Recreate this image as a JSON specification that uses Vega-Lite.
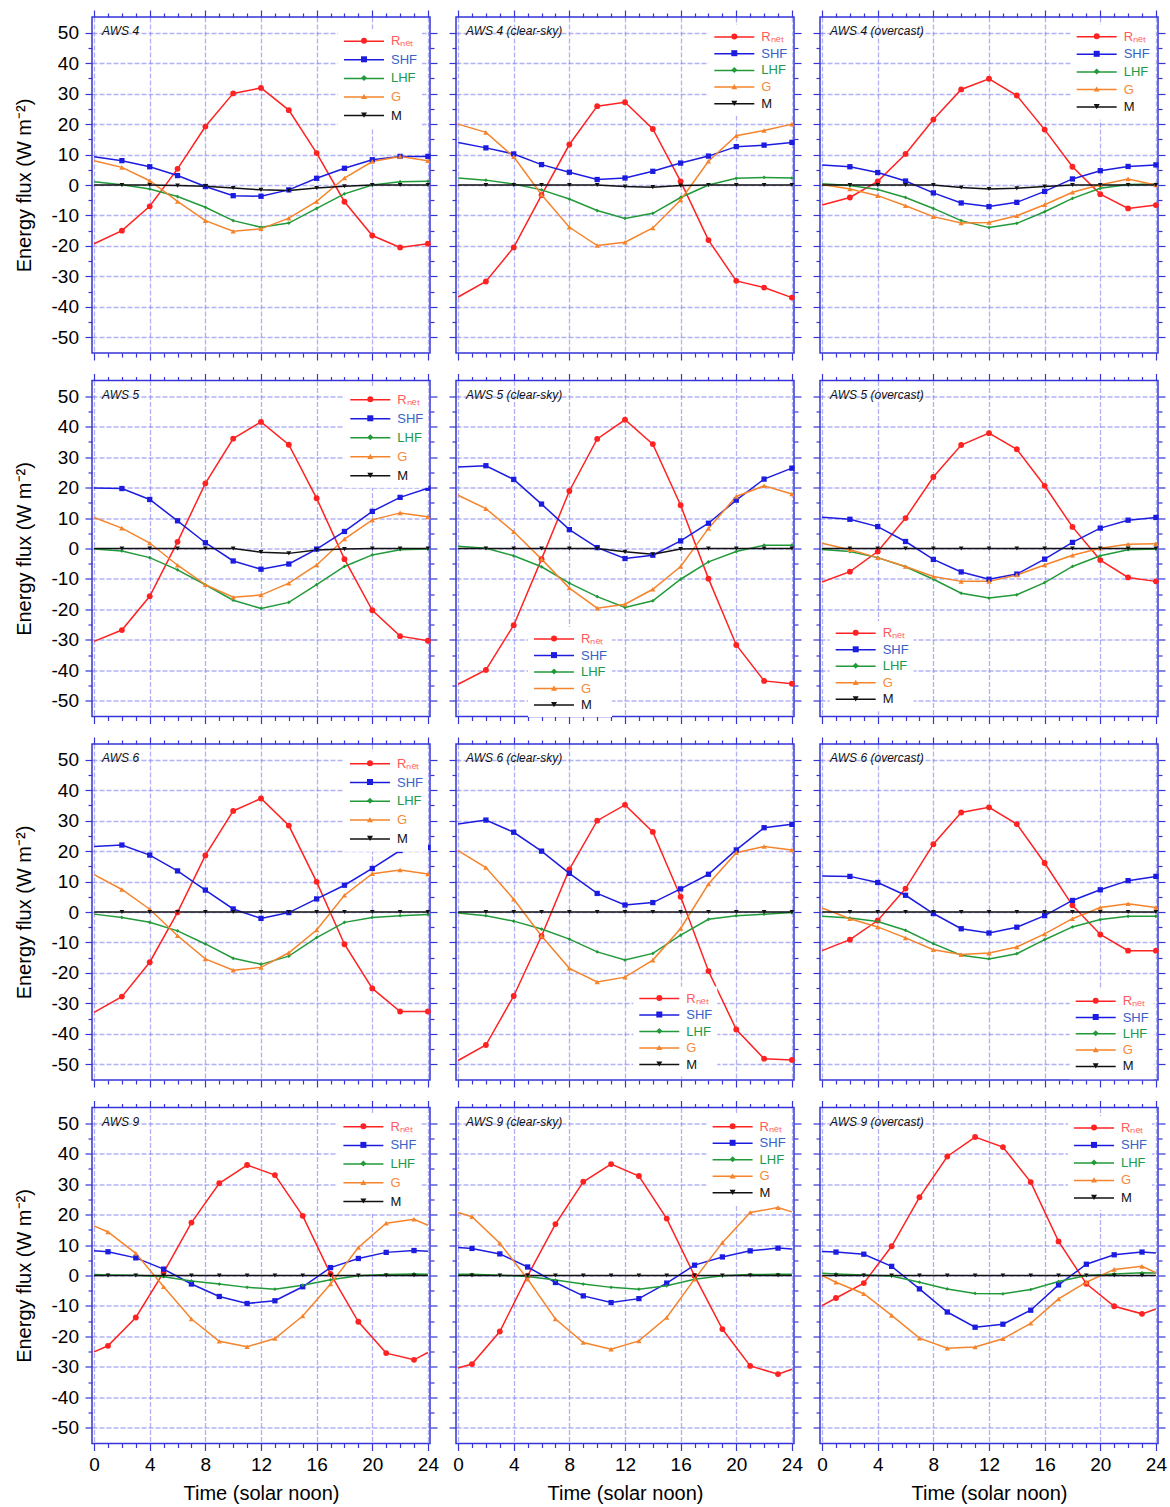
{
"$schema": "https://vega.github.io/schema/vega-lite/v6.json",
"padding": {"left": 13, "top": 8, "right": 5, "bottom": 5},
"datasets": {"d": [
{"p":"4","h":0,"Rnet":-19.3,"SHF":9.3,"LHF":1.1,"G":8.0,"M":0},
{"p":"4","h":2,"Rnet":-15.0,"SHF":8.0,"LHF":0.1,"G":5.8,"M":0},
{"p":"4","h":4,"Rnet":-7.0,"SHF":6.0,"LHF":-1.3,"G":1.4,"M":0},
{"p":"4","h":6,"Rnet":5.3,"SHF":3.1,"LHF":-3.8,"G":-5.4,"M":-0.2},
{"p":"4","h":8,"Rnet":19.2,"SHF":-0.5,"LHF":-7.3,"G":-11.7,"M":-0.4},
{"p":"4","h":10,"Rnet":30.1,"SHF":-3.5,"LHF":-11.7,"G":-15.2,"M":-1.0},
{"p":"4","h":12,"Rnet":31.9,"SHF":-3.7,"LHF":-13.9,"G":-14.4,"M":-1.6},
{"p":"4","h":14,"Rnet":24.6,"SHF":-1.6,"LHF":-12.5,"G":-10.9,"M":-1.8},
{"p":"4","h":16,"Rnet":10.5,"SHF":2.2,"LHF":-7.7,"G":-5.4,"M":-1.0},
{"p":"4","h":18,"Rnet":-5.5,"SHF":5.5,"LHF":-2.9,"G":2.3,"M":-0.4},
{"p":"4","h":20,"Rnet":-16.6,"SHF":8.3,"LHF":0.0,"G":7.7,"M":0},
{"p":"4","h":22,"Rnet":-20.5,"SHF":9.4,"LHF":1.1,"G":9.4,"M":0},
{"p":"4","h":24,"Rnet":-19.3,"SHF":9.4,"LHF":1.2,"G":8.0,"M":0},
{"p":"4c","h":0,"Rnet":-36.8,"SHF":14.0,"LHF":2.3,"G":20.0,"M":0},
{"p":"4c","h":2,"Rnet":-31.7,"SHF":12.2,"LHF":1.6,"G":17.3,"M":0},
{"p":"4c","h":4,"Rnet":-20.5,"SHF":10.2,"LHF":0.3,"G":9.3,"M":0},
{"p":"4c","h":6,"Rnet":-3.3,"SHF":6.7,"LHF":-1.6,"G":-3.2,"M":0},
{"p":"4c","h":8,"Rnet":13.3,"SHF":4.2,"LHF":-4.6,"G":-13.9,"M":0},
{"p":"4c","h":10,"Rnet":25.9,"SHF":1.8,"LHF":-8.4,"G":-19.9,"M":0},
{"p":"4c","h":12,"Rnet":27.2,"SHF":2.3,"LHF":-11.0,"G":-18.8,"M":-0.5},
{"p":"4c","h":14,"Rnet":18.4,"SHF":4.5,"LHF":-9.3,"G":-14.1,"M":-0.7},
{"p":"4c","h":16,"Rnet":1.2,"SHF":7.2,"LHF":-4.1,"G":-4.9,"M":-0.2},
{"p":"4c","h":18,"Rnet":-18.1,"SHF":9.5,"LHF":0.0,"G":7.8,"M":0},
{"p":"4c","h":20,"Rnet":-31.5,"SHF":12.6,"LHF":2.2,"G":16.2,"M":0},
{"p":"4c","h":22,"Rnet":-33.7,"SHF":13.1,"LHF":2.5,"G":17.9,"M":0},
{"p":"4c","h":24,"Rnet":-37.0,"SHF":14.0,"LHF":2.3,"G":20.0,"M":0},
{"p":"4o","h":0,"Rnet":-6.6,"SHF":6.6,"LHF":0.4,"G":0.2,"M":0},
{"p":"4o","h":2,"Rnet":-4.1,"SHF":6.0,"LHF":-0.2,"G":-1.3,"M":0},
{"p":"4o","h":4,"Rnet":1.2,"SHF":4.1,"LHF":-1.5,"G":-3.5,"M":0},
{"p":"4o","h":6,"Rnet":10.2,"SHF":1.3,"LHF":-4.1,"G":-6.8,"M":0},
{"p":"4o","h":8,"Rnet":21.5,"SHF":-2.6,"LHF":-7.7,"G":-10.4,"M":0},
{"p":"4o","h":10,"Rnet":31.4,"SHF":-5.9,"LHF":-11.7,"G":-12.5,"M":-0.8},
{"p":"4o","h":12,"Rnet":34.9,"SHF":-7.1,"LHF":-14.0,"G":-12.3,"M":-1.3},
{"p":"4o","h":14,"Rnet":29.4,"SHF":-5.7,"LHF":-12.6,"G":-10.1,"M":-1.1},
{"p":"4o","h":16,"Rnet":18.2,"SHF":-2.1,"LHF":-8.8,"G":-6.5,"M":-0.5},
{"p":"4o","h":18,"Rnet":6.0,"SHF":2.0,"LHF":-4.4,"G":-2.4,"M":0},
{"p":"4o","h":20,"Rnet":-3.0,"SHF":4.7,"LHF":-1.1,"G":0.1,"M":0},
{"p":"4o","h":22,"Rnet":-7.7,"SHF":6.1,"LHF":0.2,"G":2.0,"M":0},
{"p":"4o","h":24,"Rnet":-6.6,"SHF":6.6,"LHF":0.3,"G":0.0,"M":0},
{"p":"5","h":0,"Rnet":-30.5,"SHF":19.9,"LHF":-0.2,"G":10.2,"M":0},
{"p":"5","h":2,"Rnet":-26.8,"SHF":19.7,"LHF":-0.8,"G":6.7,"M":0},
{"p":"5","h":4,"Rnet":-15.7,"SHF":16.1,"LHF":-3.0,"G":1.8,"M":0},
{"p":"5","h":6,"Rnet":2.2,"SHF":9.1,"LHF":-7.0,"G":-5.5,"M":0},
{"p":"5","h":8,"Rnet":21.4,"SHF":1.9,"LHF":-11.9,"G":-11.9,"M":0},
{"p":"5","h":10,"Rnet":36.1,"SHF":-4.1,"LHF":-17.0,"G":-16.0,"M":0},
{"p":"5","h":12,"Rnet":41.6,"SHF":-6.8,"LHF":-19.7,"G":-15.3,"M":-1.2},
{"p":"5","h":14,"Rnet":34.1,"SHF":-5.1,"LHF":-17.7,"G":-11.4,"M":-1.6},
{"p":"5","h":16,"Rnet":16.5,"SHF":-0.2,"LHF":-11.9,"G":-5.4,"M":-0.5},
{"p":"5","h":18,"Rnet":-3.5,"SHF":5.6,"LHF":-5.9,"G":3.1,"M":-0.2},
{"p":"5","h":20,"Rnet":-20.3,"SHF":12.2,"LHF":-2.1,"G":9.4,"M":0},
{"p":"5","h":22,"Rnet":-28.8,"SHF":16.8,"LHF":-0.4,"G":11.7,"M":0},
{"p":"5","h":24,"Rnet":-30.3,"SHF":19.8,"LHF":-0.2,"G":10.4,"M":0},
{"p":"5c","h":0,"Rnet":-44.6,"SHF":26.8,"LHF":0.7,"G":17.5,"M":0},
{"p":"5c","h":2,"Rnet":-39.9,"SHF":27.2,"LHF":0.1,"G":13.1,"M":0},
{"p":"5c","h":4,"Rnet":-25.2,"SHF":22.7,"LHF":-2.4,"G":5.5,"M":0},
{"p":"5c","h":6,"Rnet":-3.5,"SHF":14.6,"LHF":-6.0,"G":-3.5,"M":0},
{"p":"5c","h":8,"Rnet":18.9,"SHF":6.2,"LHF":-11.4,"G":-13.0,"M":0},
{"p":"5c","h":10,"Rnet":36.0,"SHF":0.3,"LHF":-15.8,"G":-19.6,"M":0},
{"p":"5c","h":12,"Rnet":42.3,"SHF":-3.3,"LHF":-19.4,"G":-18.3,"M":-1.1},
{"p":"5c","h":14,"Rnet":34.3,"SHF":-2.2,"LHF":-17.2,"G":-13.4,"M":-1.9},
{"p":"5c","h":16,"Rnet":14.2,"SHF":2.5,"LHF":-10.1,"G":-5.9,"M":-0.2},
{"p":"5c","h":18,"Rnet":-9.9,"SHF":8.3,"LHF":-4.4,"G":6.6,"M":0},
{"p":"5c","h":20,"Rnet":-31.7,"SHF":15.9,"LHF":-1.0,"G":17.1,"M":0},
{"p":"5c","h":22,"Rnet":-43.5,"SHF":22.8,"LHF":1.1,"G":20.6,"M":0},
{"p":"5c","h":24,"Rnet":-44.4,"SHF":26.4,"LHF":1.1,"G":17.9,"M":0},
{"p":"5o","h":0,"Rnet":-11.0,"SHF":10.3,"LHF":-0.3,"G":1.7,"M":0},
{"p":"5o","h":2,"Rnet":-7.6,"SHF":9.6,"LHF":-1.0,"G":-0.4,"M":0},
{"p":"5o","h":4,"Rnet":-1.0,"SHF":7.2,"LHF":-3.0,"G":-3.0,"M":0},
{"p":"5o","h":6,"Rnet":10.0,"SHF":2.3,"LHF":-6.0,"G":-5.9,"M":0},
{"p":"5o","h":8,"Rnet":23.5,"SHF":-3.6,"LHF":-10.1,"G":-9.2,"M":0},
{"p":"5o","h":10,"Rnet":34.0,"SHF":-7.7,"LHF":-14.7,"G":-10.8,"M":0},
{"p":"5o","h":12,"Rnet":37.9,"SHF":-10.1,"LHF":-16.3,"G":-10.8,"M":0},
{"p":"5o","h":14,"Rnet":32.6,"SHF":-8.4,"LHF":-15.2,"G":-8.7,"M":0},
{"p":"5o","h":16,"Rnet":20.6,"SHF":-3.5,"LHF":-11.2,"G":-5.4,"M":0},
{"p":"5o","h":18,"Rnet":7.1,"SHF":2.0,"LHF":-5.9,"G":-2.2,"M":0},
{"p":"5o","h":20,"Rnet":-3.8,"SHF":6.7,"LHF":-2.4,"G":0.1,"M":0},
{"p":"5o","h":22,"Rnet":-9.5,"SHF":9.3,"LHF":-0.4,"G":1.4,"M":0},
{"p":"5o","h":24,"Rnet":-10.8,"SHF":10.2,"LHF":-0.2,"G":1.6,"M":0},
{"p":"6","h":0,"Rnet":-33.0,"SHF":21.5,"LHF":-0.7,"G":12.3,"M":0},
{"p":"6","h":2,"Rnet":-27.8,"SHF":22.0,"LHF":-1.8,"G":7.4,"M":0},
{"p":"6","h":4,"Rnet":-16.5,"SHF":18.7,"LHF":-3.4,"G":0.9,"M":0},
{"p":"6","h":6,"Rnet":-0.1,"SHF":13.5,"LHF":-6.2,"G":-7.8,"M":0},
{"p":"6","h":8,"Rnet":18.6,"SHF":7.2,"LHF":-10.5,"G":-15.4,"M":0},
{"p":"6","h":10,"Rnet":33.2,"SHF":1.0,"LHF":-15.2,"G":-19.1,"M":0},
{"p":"6","h":12,"Rnet":37.3,"SHF":-2.1,"LHF":-17.2,"G":-18.2,"M":0},
{"p":"6","h":14,"Rnet":28.4,"SHF":-0.2,"LHF":-14.5,"G":-13.4,"M":0},
{"p":"6","h":16,"Rnet":9.9,"SHF":4.3,"LHF":-8.4,"G":-5.9,"M":0},
{"p":"6","h":18,"Rnet":-10.6,"SHF":8.8,"LHF":-3.4,"G":5.5,"M":0},
{"p":"6","h":20,"Rnet":-25.1,"SHF":14.3,"LHF":-1.8,"G":12.6,"M":0},
{"p":"6","h":22,"Rnet":-32.7,"SHF":20.2,"LHF":-1.2,"G":13.8,"M":0},
{"p":"6","h":24,"Rnet":-32.7,"SHF":21.2,"LHF":-0.8,"G":12.5,"M":0},
{"p":"6c","h":0,"Rnet":-48.8,"SHF":28.9,"LHF":-0.3,"G":20.2,"M":0},
{"p":"6c","h":2,"Rnet":-43.7,"SHF":30.2,"LHF":-1.2,"G":14.6,"M":0},
{"p":"6c","h":4,"Rnet":-27.6,"SHF":26.2,"LHF":-3.0,"G":4.2,"M":0},
{"p":"6c","h":6,"Rnet":-7.9,"SHF":20.0,"LHF":-5.6,"G":-7.9,"M":0},
{"p":"6c","h":8,"Rnet":14.0,"SHF":12.7,"LHF":-8.9,"G":-18.5,"M":0},
{"p":"6c","h":10,"Rnet":30.0,"SHF":6.1,"LHF":-13.1,"G":-23.0,"M":0},
{"p":"6c","h":12,"Rnet":35.2,"SHF":2.3,"LHF":-15.8,"G":-21.4,"M":0},
{"p":"6c","h":14,"Rnet":26.3,"SHF":3.1,"LHF":-13.6,"G":-15.8,"M":0},
{"p":"6c","h":16,"Rnet":5.0,"SHF":7.6,"LHF":-7.6,"G":-5.4,"M":0},
{"p":"6c","h":18,"Rnet":-19.4,"SHF":12.4,"LHF":-2.4,"G":9.2,"M":0},
{"p":"6c","h":20,"Rnet":-38.6,"SHF":20.4,"LHF":-1.2,"G":19.5,"M":0},
{"p":"6c","h":22,"Rnet":-48.2,"SHF":27.7,"LHF":-0.7,"G":21.5,"M":0},
{"p":"6c","h":24,"Rnet":-48.6,"SHF":28.8,"LHF":-0.2,"G":20.4,"M":0},
{"p":"6o","h":0,"Rnet":-12.7,"SHF":11.8,"LHF":-1.4,"G":1.3,"M":0},
{"p":"6o","h":2,"Rnet":-9.1,"SHF":11.7,"LHF":-2.0,"G":-2.2,"M":0},
{"p":"6o","h":4,"Rnet":-2.8,"SHF":9.7,"LHF":-3.1,"G":-4.9,"M":0},
{"p":"6o","h":6,"Rnet":7.7,"SHF":5.5,"LHF":-6.0,"G":-8.5,"M":0},
{"p":"6o","h":8,"Rnet":22.3,"SHF":-0.5,"LHF":-10.4,"G":-12.4,"M":0},
{"p":"6o","h":10,"Rnet":32.7,"SHF":-5.5,"LHF":-14.2,"G":-14.0,"M":0},
{"p":"6o","h":12,"Rnet":34.4,"SHF":-6.9,"LHF":-15.4,"G":-13.5,"M":0},
{"p":"6o","h":14,"Rnet":28.9,"SHF":-5.0,"LHF":-13.7,"G":-11.5,"M":0},
{"p":"6o","h":16,"Rnet":16.1,"SHF":-1.2,"LHF":-9.1,"G":-7.2,"M":0},
{"p":"6o","h":18,"Rnet":2.2,"SHF":3.8,"LHF":-4.9,"G":-2.2,"M":0},
{"p":"6o","h":20,"Rnet":-7.4,"SHF":7.3,"LHF":-2.5,"G":1.5,"M":0},
{"p":"6o","h":22,"Rnet":-12.7,"SHF":10.3,"LHF":-1.4,"G":2.7,"M":0},
{"p":"6o","h":24,"Rnet":-12.7,"SHF":11.7,"LHF":-1.4,"G":1.5,"M":0},
{"p":"9","h":0,"Rnet":-25.1,"SHF":8.1,"LHF":0.3,"G":16.3,"M":0},
{"p":"9","h":1,"Rnet":-23.1,"SHF":7.8,"LHF":0.2,"G":14.3,"M":0},
{"p":"9","h":3,"Rnet":-13.8,"SHF":5.8,"LHF":0.1,"G":7.3,"M":0},
{"p":"9","h":5,"Rnet":1.0,"SHF":2.1,"LHF":-0.4,"G":-3.7,"M":0},
{"p":"9","h":7,"Rnet":17.4,"SHF":-2.8,"LHF":-1.8,"G":-14.3,"M":0},
{"p":"9","h":9,"Rnet":30.3,"SHF":-6.9,"LHF":-2.8,"G":-21.6,"M":0},
{"p":"9","h":11,"Rnet":36.3,"SHF":-9.2,"LHF":-3.9,"G":-23.4,"M":0},
{"p":"9","h":13,"Rnet":33.0,"SHF":-8.3,"LHF":-4.5,"G":-20.7,"M":0},
{"p":"9","h":15,"Rnet":19.6,"SHF":-3.7,"LHF":-3.2,"G":-13.3,"M":0},
{"p":"9","h":17,"Rnet":0.5,"SHF":2.6,"LHF":-1.4,"G":-2.8,"M":0},
{"p":"9","h":19,"Rnet":-15.2,"SHF":5.6,"LHF":-0.1,"G":9.2,"M":0},
{"p":"9","h":21,"Rnet":-25.5,"SHF":7.6,"LHF":0.3,"G":17.2,"M":0},
{"p":"9","h":23,"Rnet":-27.7,"SHF":8.2,"LHF":0.5,"G":18.5,"M":0},
{"p":"9","h":24,"Rnet":-25.3,"SHF":8.0,"LHF":0.4,"G":16.5,"M":0},
{"p":"9c","h":0,"Rnet":-30.4,"SHF":9.2,"LHF":0.4,"G":20.7,"M":0},
{"p":"9c","h":1,"Rnet":-29.1,"SHF":8.9,"LHF":0.4,"G":19.3,"M":0},
{"p":"9c","h":3,"Rnet":-18.4,"SHF":7.1,"LHF":0.1,"G":10.6,"M":0},
{"p":"9c","h":5,"Rnet":-0.1,"SHF":2.8,"LHF":-0.3,"G":-1.2,"M":0},
{"p":"9c","h":7,"Rnet":16.9,"SHF":-2.3,"LHF":-1.5,"G":-14.3,"M":0},
{"p":"9c","h":9,"Rnet":30.8,"SHF":-6.7,"LHF":-2.8,"G":-22.0,"M":0},
{"p":"9c","h":11,"Rnet":36.6,"SHF":-8.9,"LHF":-3.9,"G":-24.2,"M":0},
{"p":"9c","h":13,"Rnet":32.7,"SHF":-7.6,"LHF":-4.5,"G":-21.5,"M":0},
{"p":"9c","h":15,"Rnet":18.7,"SHF":-2.5,"LHF":-3.4,"G":-13.8,"M":0},
{"p":"9c","h":17,"Rnet":-0.1,"SHF":3.4,"LHF":-1.2,"G":-1.2,"M":0},
{"p":"9c","h":19,"Rnet":-17.6,"SHF":6.1,"LHF":-0.1,"G":10.8,"M":0},
{"p":"9c","h":21,"Rnet":-29.7,"SHF":8.1,"LHF":0.3,"G":20.7,"M":0},
{"p":"9c","h":23,"Rnet":-32.4,"SHF":9.0,"LHF":0.4,"G":22.3,"M":0},
{"p":"9c","h":24,"Rnet":-30.8,"SHF":8.7,"LHF":0.4,"G":20.9,"M":0},
{"p":"9o","h":0,"Rnet":-9.9,"SHF":7.9,"LHF":0.7,"G":0.0,"M":0},
{"p":"9o","h":1,"Rnet":-7.4,"SHF":7.7,"LHF":0.5,"G":-2.2,"M":0},
{"p":"9o","h":3,"Rnet":-2.5,"SHF":7.0,"LHF":0.2,"G":-6.0,"M":0},
{"p":"9o","h":5,"Rnet":9.6,"SHF":3.0,"LHF":-0.2,"G":-13.1,"M":0},
{"p":"9o","h":7,"Rnet":25.7,"SHF":-4.4,"LHF":-2.2,"G":-20.6,"M":0},
{"p":"9o","h":9,"Rnet":39.1,"SHF":-12.0,"LHF":-4.4,"G":-23.9,"M":0},
{"p":"9o","h":11,"Rnet":45.5,"SHF":-17.0,"LHF":-5.9,"G":-23.5,"M":0},
{"p":"9o","h":13,"Rnet":42.2,"SHF":-16.0,"LHF":-6.0,"G":-20.8,"M":0},
{"p":"9o","h":15,"Rnet":30.7,"SHF":-11.4,"LHF":-4.6,"G":-15.7,"M":0},
{"p":"9o","h":17,"Rnet":11.2,"SHF":-3.1,"LHF":-2.0,"G":-7.7,"M":0},
{"p":"9o","h":19,"Rnet":-2.7,"SHF":3.7,"LHF":0.0,"G":-2.2,"M":0},
{"p":"9o","h":21,"Rnet":-10.1,"SHF":6.8,"LHF":0.5,"G":2.0,"M":0},
{"p":"9o","h":23,"Rnet":-12.6,"SHF":7.7,"LHF":0.9,"G":3.0,"M":0},
{"p":"9o","h":24,"Rnet":-11.0,"SHF":7.4,"LHF":0.8,"G":0.9,"M":0}
]},
"columns": 3,
"spacing": {"row": 27.5, "column": 26},
"bounds": "flush",
"resolve": {"scale": {"stroke": "independent", "fill": "independent", "shape": "independent"}},
"concat": [
{"width": 338, "height": 336, "title": {"text": "AWS 4"}, "data": {"name": "d"},
 "transform": [{"filter": "datum.p === '4'"}, {"fold": ["Rnet","SHF","LHF","G","M"], "as": ["series","value"]}],
 "resolve": {"axis": {"x": "independent", "y": "independent"}},
 "layer": [
  {"mark": {"type": "line", "strokeWidth": 1.5},
   "encoding": {
    "x": {"field": "h", "type": "quantitative", "scale": {"domain": [-0.15, 24.15], "nice": false, "zero": false},
      "axis": {"orient": "bottom", "values": [0,1,2,3,4,5,6,7,8,9,10,11,12,13,14,15,16,17,18,19,20,21,22,23,24], "tickSize": {"condition": {"test": "datum.value % 4 === 0", "value": 7}, "value": 4}, "grid": true, "gridOpacity": {"condition": {"test": "datum.value % 4 === 0", "value": 0.55}, "value": 0}, "labels": false, "title": null}},
    "y": {"field": "value", "type": "quantitative", "scale": {"domain": [-55.2, 55.2], "nice": false},
      "axis": {"orient": "left", "values": [-50,-45,-40,-35,-30,-25,-20,-15,-10,-5,0,5,10,15,20,25,30,35,40,45,50], "tickSize": {"condition": {"test": "datum.value % 10 === 0", "value": 7}, "value": 4}, "grid": true, "gridOpacity": {"condition": {"test": "datum.value % 10 === 0", "value": 0.55}, "value": 0}, "labels": true, "labelExpr": "datum.value % 10 === 0 ? '' + datum.value : ''", "labelOverlap": false, "labelFlush": false, "labelPadding": 6.5, "title": "Energy flux (W m⁻²)", "titlePadding": 16.5}},
    "stroke": {"field": "series", "type": "nominal", "scale": {"domain": ["M","Rnet","SHF","LHF","G"], "range": ["#111111","#ff2222","#1c1ce0","#229a3a","#f5842c"]},
      "legend": {"values": ["Rnet","SHF","LHF","G","M"], "orient": "none", "legendX": 246, "legendY": 12.2, "title": null, "rowPadding": 4.6, "symbolType": "M-3.333,0H3.333", "symbolSize": 144, "symbolStrokeWidth": 1.5, "symbolOffset": 14, "labelOffset": 20, "fillColor": "white", "zindex": 0, "labelExpr": "datum.value === 'Rnet' ? 'Rₙₑₜ' : datum.value",
        "encode": {"labels": {"update": {"fill": {"signal": "datum.value === 'Rnet' ? '#ff5a5a' : datum.value === 'SHF' ? '#3762c6' : datum.value === 'LHF' ? '#20994a' : datum.value === 'G' ? '#f58a3c' : '#111111'"}}}}}}
   }},
  {"transform": [{"filter": "datum.h > 0"}],
   "mark": {"type": "point", "filled": true, "opacity": 1},
   "encoding": {
    "x": {"field": "h", "type": "quantitative", "axis": {"orient": "top", "values": [0,1,2,3,4,5,6,7,8,9,10,11,12,13,14,15,16,17,18,19,20,21,22,23,24], "tickSize": {"condition": {"test": "datum.value % 4 === 0", "value": 7}, "value": 4}, "grid": false, "labels": false, "title": null}},
    "y": {"field": "value", "type": "quantitative", "axis": {"orient": "right", "values": [-50,-45,-40,-35,-30,-25,-20,-15,-10,-5,0,5,10,15,20,25,30,35,40,45,50], "tickSize": {"condition": {"test": "datum.value % 10 === 0", "value": 7}, "value": 4}, "grid": false, "labels": false, "title": null}},
    "fill": {"field": "series", "type": "nominal", "scale": {"domain": ["Rnet","SHF","LHF","G","M"], "range": ["#ff2222","#1c1ce0","#229a3a","#f5842c","#111111"]},
      "legend": {"orient": "none", "legendX": 246, "legendY": 12.2, "title": null, "rowPadding": 4.6, "symbolSize": 36, "symbolStrokeWidth": 0, "symbolOffset": 14.5, "labelOffset": 6, "labelOpacity": 0, "zindex": 1, "labelExpr": "' '"}},
    "shape": {"field": "series", "type": "nominal", "scale": {"domain": ["Rnet","SHF","LHF","G","M"], "range": ["circle","square","diamond","triangle-up","triangle-down"]}},
    "size": {"condition": [{"test": "datum.series === 'Rnet'", "value": 34}, {"test": "datum.series === 'LHF'", "value": 14}, {"test": "datum.series === 'M'", "value": 22}], "value": 28}
   }}
 ]},
{"width": 338, "height": 336, "title": {"text": "AWS 4 (clear-sky)"}, "data": {"name": "d"},
 "transform": [{"filter": "datum.p === '4c'"}, {"fold": ["Rnet","SHF","LHF","G","M"], "as": ["series","value"]}],
 "resolve": {"axis": {"x": "independent", "y": "independent"}},
 "layer": [
  {"mark": {"type": "line", "strokeWidth": 1.5},
   "encoding": {
    "x": {"field": "h", "type": "quantitative", "scale": {"domain": [-0.15, 24.15], "nice": false, "zero": false},
      "axis": {"orient": "bottom", "values": [0,1,2,3,4,5,6,7,8,9,10,11,12,13,14,15,16,17,18,19,20,21,22,23,24], "tickSize": {"condition": {"test": "datum.value % 4 === 0", "value": 7}, "value": 4}, "grid": true, "gridOpacity": {"condition": {"test": "datum.value % 4 === 0", "value": 0.55}, "value": 0}, "labels": false, "title": null}},
    "y": {"field": "value", "type": "quantitative", "scale": {"domain": [-55.2, 55.2], "nice": false},
      "axis": {"orient": "left", "values": [-50,-45,-40,-35,-30,-25,-20,-15,-10,-5,0,5,10,15,20,25,30,35,40,45,50], "tickSize": {"condition": {"test": "datum.value % 10 === 0", "value": 7}, "value": 4}, "grid": true, "gridOpacity": {"condition": {"test": "datum.value % 10 === 0", "value": 0.55}, "value": 0}, "labels": false, "title": null}},
    "stroke": {"field": "series", "type": "nominal", "scale": {"domain": ["M","Rnet","SHF","LHF","G"], "range": ["#111111","#ff2222","#1c1ce0","#229a3a","#f5842c"]},
      "legend": {"values": ["Rnet","SHF","LHF","G","M"], "orient": "none", "legendX": 252.3, "legendY": 8, "title": null, "rowPadding": 2.7, "symbolType": "M-3.333,0H3.333", "symbolSize": 144, "symbolStrokeWidth": 1.5, "symbolOffset": 14, "labelOffset": 20, "fillColor": "white", "zindex": 0, "labelExpr": "datum.value === 'Rnet' ? 'Rₙₑₜ' : datum.value",
        "encode": {"labels": {"update": {"fill": {"signal": "datum.value === 'Rnet' ? '#ff5a5a' : datum.value === 'SHF' ? '#3762c6' : datum.value === 'LHF' ? '#20994a' : datum.value === 'G' ? '#f58a3c' : '#111111'"}}}}}}
   }},
  {"transform": [{"filter": "datum.h > 0"}],
   "mark": {"type": "point", "filled": true, "opacity": 1},
   "encoding": {
    "x": {"field": "h", "type": "quantitative", "axis": {"orient": "top", "values": [0,1,2,3,4,5,6,7,8,9,10,11,12,13,14,15,16,17,18,19,20,21,22,23,24], "tickSize": {"condition": {"test": "datum.value % 4 === 0", "value": 7}, "value": 4}, "grid": false, "labels": false, "title": null}},
    "y": {"field": "value", "type": "quantitative", "axis": {"orient": "right", "values": [-50,-45,-40,-35,-30,-25,-20,-15,-10,-5,0,5,10,15,20,25,30,35,40,45,50], "tickSize": {"condition": {"test": "datum.value % 10 === 0", "value": 7}, "value": 4}, "grid": false, "labels": false, "title": null}},
    "fill": {"field": "series", "type": "nominal", "scale": {"domain": ["Rnet","SHF","LHF","G","M"], "range": ["#ff2222","#1c1ce0","#229a3a","#f5842c","#111111"]},
      "legend": {"orient": "none", "legendX": 252.3, "legendY": 8, "title": null, "rowPadding": 2.7, "symbolSize": 36, "symbolStrokeWidth": 0, "symbolOffset": 14.5, "labelOffset": 6, "labelOpacity": 0, "zindex": 1, "labelExpr": "' '"}},
    "shape": {"field": "series", "type": "nominal", "scale": {"domain": ["Rnet","SHF","LHF","G","M"], "range": ["circle","square","diamond","triangle-up","triangle-down"]}},
    "size": {"condition": [{"test": "datum.series === 'Rnet'", "value": 34}, {"test": "datum.series === 'LHF'", "value": 14}, {"test": "datum.series === 'M'", "value": 22}], "value": 28}
   }}
 ]},
{"width": 338, "height": 336, "title": {"text": "AWS 4 (overcast)"}, "data": {"name": "d"},
 "transform": [{"filter": "datum.p === '4o'"}, {"fold": ["Rnet","SHF","LHF","G","M"], "as": ["series","value"]}],
 "resolve": {"axis": {"x": "independent", "y": "independent"}},
 "layer": [
  {"mark": {"type": "line", "strokeWidth": 1.5},
   "encoding": {
    "x": {"field": "h", "type": "quantitative", "scale": {"domain": [-0.15, 24.15], "nice": false, "zero": false},
      "axis": {"orient": "bottom", "values": [0,1,2,3,4,5,6,7,8,9,10,11,12,13,14,15,16,17,18,19,20,21,22,23,24], "tickSize": {"condition": {"test": "datum.value % 4 === 0", "value": 7}, "value": 4}, "grid": true, "gridOpacity": {"condition": {"test": "datum.value % 4 === 0", "value": 0.55}, "value": 0}, "labels": false, "title": null}},
    "y": {"field": "value", "type": "quantitative", "scale": {"domain": [-55.2, 55.2], "nice": false},
      "axis": {"orient": "left", "values": [-50,-45,-40,-35,-30,-25,-20,-15,-10,-5,0,5,10,15,20,25,30,35,40,45,50], "tickSize": {"condition": {"test": "datum.value % 10 === 0", "value": 7}, "value": 4}, "grid": true, "gridOpacity": {"condition": {"test": "datum.value % 10 === 0", "value": 0.55}, "value": 0}, "labels": false, "title": null}},
    "stroke": {"field": "series", "type": "nominal", "scale": {"domain": ["M","Rnet","SHF","LHF","G"], "range": ["#111111","#ff2222","#1c1ce0","#229a3a","#f5842c"]},
      "legend": {"values": ["Rnet","SHF","LHF","G","M"], "orient": "none", "legendX": 250.7, "legendY": 7.7, "title": null, "rowPadding": 3.6, "symbolType": "M-3.333,0H3.333", "symbolSize": 144, "symbolStrokeWidth": 1.5, "symbolOffset": 14, "labelOffset": 20, "fillColor": "white", "zindex": 0, "labelExpr": "datum.value === 'Rnet' ? 'Rₙₑₜ' : datum.value",
        "encode": {"labels": {"update": {"fill": {"signal": "datum.value === 'Rnet' ? '#ff5a5a' : datum.value === 'SHF' ? '#3762c6' : datum.value === 'LHF' ? '#20994a' : datum.value === 'G' ? '#f58a3c' : '#111111'"}}}}}}
   }},
  {"transform": [{"filter": "datum.h > 0"}],
   "mark": {"type": "point", "filled": true, "opacity": 1},
   "encoding": {
    "x": {"field": "h", "type": "quantitative", "axis": {"orient": "top", "values": [0,1,2,3,4,5,6,7,8,9,10,11,12,13,14,15,16,17,18,19,20,21,22,23,24], "tickSize": {"condition": {"test": "datum.value % 4 === 0", "value": 7}, "value": 4}, "grid": false, "labels": false, "title": null}},
    "y": {"field": "value", "type": "quantitative", "axis": {"orient": "right", "values": [-50,-45,-40,-35,-30,-25,-20,-15,-10,-5,0,5,10,15,20,25,30,35,40,45,50], "tickSize": {"condition": {"test": "datum.value % 10 === 0", "value": 7}, "value": 4}, "grid": false, "labels": false, "title": null}},
    "fill": {"field": "series", "type": "nominal", "scale": {"domain": ["Rnet","SHF","LHF","G","M"], "range": ["#ff2222","#1c1ce0","#229a3a","#f5842c","#111111"]},
      "legend": {"orient": "none", "legendX": 250.7, "legendY": 7.7, "title": null, "rowPadding": 3.6, "symbolSize": 36, "symbolStrokeWidth": 0, "symbolOffset": 14.5, "labelOffset": 6, "labelOpacity": 0, "zindex": 1, "labelExpr": "' '"}},
    "shape": {"field": "series", "type": "nominal", "scale": {"domain": ["Rnet","SHF","LHF","G","M"], "range": ["circle","square","diamond","triangle-up","triangle-down"]}},
    "size": {"condition": [{"test": "datum.series === 'Rnet'", "value": 34}, {"test": "datum.series === 'LHF'", "value": 14}, {"test": "datum.series === 'M'", "value": 22}], "value": 28}
   }}
 ]},
{"width": 338, "height": 336, "title": {"text": "AWS 5"}, "data": {"name": "d"},
 "transform": [{"filter": "datum.p === '5'"}, {"fold": ["Rnet","SHF","LHF","G","M"], "as": ["series","value"]}],
 "resolve": {"axis": {"x": "independent", "y": "independent"}},
 "layer": [
  {"mark": {"type": "line", "strokeWidth": 1.5},
   "encoding": {
    "x": {"field": "h", "type": "quantitative", "scale": {"domain": [-0.15, 24.15], "nice": false, "zero": false},
      "axis": {"orient": "bottom", "values": [0,1,2,3,4,5,6,7,8,9,10,11,12,13,14,15,16,17,18,19,20,21,22,23,24], "tickSize": {"condition": {"test": "datum.value % 4 === 0", "value": 7}, "value": 4}, "grid": true, "gridOpacity": {"condition": {"test": "datum.value % 4 === 0", "value": 0.55}, "value": 0}, "labels": false, "title": null}},
    "y": {"field": "value", "type": "quantitative", "scale": {"domain": [-55.2, 55.2], "nice": false},
      "axis": {"orient": "left", "values": [-50,-45,-40,-35,-30,-25,-20,-15,-10,-5,0,5,10,15,20,25,30,35,40,45,50], "tickSize": {"condition": {"test": "datum.value % 10 === 0", "value": 7}, "value": 4}, "grid": true, "gridOpacity": {"condition": {"test": "datum.value % 10 === 0", "value": 0.55}, "value": 0}, "labels": true, "labelExpr": "datum.value % 10 === 0 ? '' + datum.value : ''", "labelOverlap": false, "labelFlush": false, "labelPadding": 6.5, "title": "Energy flux (W m⁻²)", "titlePadding": 16.5}},
    "stroke": {"field": "series", "type": "nominal", "scale": {"domain": ["M","Rnet","SHF","LHF","G"], "range": ["#111111","#ff2222","#1c1ce0","#229a3a","#f5842c"]},
      "legend": {"values": ["Rnet","SHF","LHF","G","M"], "orient": "none", "legendX": 252.3, "legendY": 7.3, "title": null, "rowPadding": 5, "symbolType": "M-3.333,0H3.333", "symbolSize": 144, "symbolStrokeWidth": 1.5, "symbolOffset": 14, "labelOffset": 20, "fillColor": "white", "zindex": 0, "labelExpr": "datum.value === 'Rnet' ? 'Rₙₑₜ' : datum.value",
        "encode": {"labels": {"update": {"fill": {"signal": "datum.value === 'Rnet' ? '#ff5a5a' : datum.value === 'SHF' ? '#3762c6' : datum.value === 'LHF' ? '#20994a' : datum.value === 'G' ? '#f58a3c' : '#111111'"}}}}}}
   }},
  {"transform": [{"filter": "datum.h > 0"}],
   "mark": {"type": "point", "filled": true, "opacity": 1},
   "encoding": {
    "x": {"field": "h", "type": "quantitative", "axis": {"orient": "top", "values": [0,1,2,3,4,5,6,7,8,9,10,11,12,13,14,15,16,17,18,19,20,21,22,23,24], "tickSize": {"condition": {"test": "datum.value % 4 === 0", "value": 7}, "value": 4}, "grid": false, "labels": false, "title": null}},
    "y": {"field": "value", "type": "quantitative", "axis": {"orient": "right", "values": [-50,-45,-40,-35,-30,-25,-20,-15,-10,-5,0,5,10,15,20,25,30,35,40,45,50], "tickSize": {"condition": {"test": "datum.value % 10 === 0", "value": 7}, "value": 4}, "grid": false, "labels": false, "title": null}},
    "fill": {"field": "series", "type": "nominal", "scale": {"domain": ["Rnet","SHF","LHF","G","M"], "range": ["#ff2222","#1c1ce0","#229a3a","#f5842c","#111111"]},
      "legend": {"orient": "none", "legendX": 252.3, "legendY": 7.3, "title": null, "rowPadding": 5, "symbolSize": 36, "symbolStrokeWidth": 0, "symbolOffset": 14.5, "labelOffset": 6, "labelOpacity": 0, "zindex": 1, "labelExpr": "' '"}},
    "shape": {"field": "series", "type": "nominal", "scale": {"domain": ["Rnet","SHF","LHF","G","M"], "range": ["circle","square","diamond","triangle-up","triangle-down"]}},
    "size": {"condition": [{"test": "datum.series === 'Rnet'", "value": 34}, {"test": "datum.series === 'LHF'", "value": 14}, {"test": "datum.series === 'M'", "value": 22}], "value": 28}
   }}
 ]},
{"width": 338, "height": 336, "title": {"text": "AWS 5 (clear-sky)"}, "data": {"name": "d"},
 "transform": [{"filter": "datum.p === '5c'"}, {"fold": ["Rnet","SHF","LHF","G","M"], "as": ["series","value"]}],
 "resolve": {"axis": {"x": "independent", "y": "independent"}},
 "layer": [
  {"mark": {"type": "line", "strokeWidth": 1.5},
   "encoding": {
    "x": {"field": "h", "type": "quantitative", "scale": {"domain": [-0.15, 24.15], "nice": false, "zero": false},
      "axis": {"orient": "bottom", "values": [0,1,2,3,4,5,6,7,8,9,10,11,12,13,14,15,16,17,18,19,20,21,22,23,24], "tickSize": {"condition": {"test": "datum.value % 4 === 0", "value": 7}, "value": 4}, "grid": true, "gridOpacity": {"condition": {"test": "datum.value % 4 === 0", "value": 0.55}, "value": 0}, "labels": false, "title": null}},
    "y": {"field": "value", "type": "quantitative", "scale": {"domain": [-55.2, 55.2], "nice": false},
      "axis": {"orient": "left", "values": [-50,-45,-40,-35,-30,-25,-20,-15,-10,-5,0,5,10,15,20,25,30,35,40,45,50], "tickSize": {"condition": {"test": "datum.value % 10 === 0", "value": 7}, "value": 4}, "grid": true, "gridOpacity": {"condition": {"test": "datum.value % 10 === 0", "value": 0.55}, "value": 0}, "labels": false, "title": null}},
    "stroke": {"field": "series", "type": "nominal", "scale": {"domain": ["M","Rnet","SHF","LHF","G"], "range": ["#111111","#ff2222","#1c1ce0","#229a3a","#f5842c"]},
      "legend": {"values": ["Rnet","SHF","LHF","G","M"], "orient": "none", "legendX": 72, "legendY": 246.6, "title": null, "rowPadding": 2.5, "symbolType": "M-3.333,0H3.333", "symbolSize": 144, "symbolStrokeWidth": 1.5, "symbolOffset": 14, "labelOffset": 20, "fillColor": "white", "zindex": 0, "labelExpr": "datum.value === 'Rnet' ? 'Rₙₑₜ' : datum.value",
        "encode": {"labels": {"update": {"fill": {"signal": "datum.value === 'Rnet' ? '#ff5a5a' : datum.value === 'SHF' ? '#3762c6' : datum.value === 'LHF' ? '#20994a' : datum.value === 'G' ? '#f58a3c' : '#111111'"}}}}}}
   }},
  {"transform": [{"filter": "datum.h > 0"}],
   "mark": {"type": "point", "filled": true, "opacity": 1},
   "encoding": {
    "x": {"field": "h", "type": "quantitative", "axis": {"orient": "top", "values": [0,1,2,3,4,5,6,7,8,9,10,11,12,13,14,15,16,17,18,19,20,21,22,23,24], "tickSize": {"condition": {"test": "datum.value % 4 === 0", "value": 7}, "value": 4}, "grid": false, "labels": false, "title": null}},
    "y": {"field": "value", "type": "quantitative", "axis": {"orient": "right", "values": [-50,-45,-40,-35,-30,-25,-20,-15,-10,-5,0,5,10,15,20,25,30,35,40,45,50], "tickSize": {"condition": {"test": "datum.value % 10 === 0", "value": 7}, "value": 4}, "grid": false, "labels": false, "title": null}},
    "fill": {"field": "series", "type": "nominal", "scale": {"domain": ["Rnet","SHF","LHF","G","M"], "range": ["#ff2222","#1c1ce0","#229a3a","#f5842c","#111111"]},
      "legend": {"orient": "none", "legendX": 72, "legendY": 246.6, "title": null, "rowPadding": 2.5, "symbolSize": 36, "symbolStrokeWidth": 0, "symbolOffset": 14.5, "labelOffset": 6, "labelOpacity": 0, "zindex": 1, "labelExpr": "' '"}},
    "shape": {"field": "series", "type": "nominal", "scale": {"domain": ["Rnet","SHF","LHF","G","M"], "range": ["circle","square","diamond","triangle-up","triangle-down"]}},
    "size": {"condition": [{"test": "datum.series === 'Rnet'", "value": 34}, {"test": "datum.series === 'LHF'", "value": 14}, {"test": "datum.series === 'M'", "value": 22}], "value": 28}
   }}
 ]},
{"width": 338, "height": 336, "title": {"text": "AWS 5 (overcast)"}, "data": {"name": "d"},
 "transform": [{"filter": "datum.p === '5o'"}, {"fold": ["Rnet","SHF","LHF","G","M"], "as": ["series","value"]}],
 "resolve": {"axis": {"x": "independent", "y": "independent"}},
 "layer": [
  {"mark": {"type": "line", "strokeWidth": 1.5},
   "encoding": {
    "x": {"field": "h", "type": "quantitative", "scale": {"domain": [-0.15, 24.15], "nice": false, "zero": false},
      "axis": {"orient": "bottom", "values": [0,1,2,3,4,5,6,7,8,9,10,11,12,13,14,15,16,17,18,19,20,21,22,23,24], "tickSize": {"condition": {"test": "datum.value % 4 === 0", "value": 7}, "value": 4}, "grid": true, "gridOpacity": {"condition": {"test": "datum.value % 4 === 0", "value": 0.55}, "value": 0}, "labels": false, "title": null}},
    "y": {"field": "value", "type": "quantitative", "scale": {"domain": [-55.2, 55.2], "nice": false},
      "axis": {"orient": "left", "values": [-50,-45,-40,-35,-30,-25,-20,-15,-10,-5,0,5,10,15,20,25,30,35,40,45,50], "tickSize": {"condition": {"test": "datum.value % 10 === 0", "value": 7}, "value": 4}, "grid": true, "gridOpacity": {"condition": {"test": "datum.value % 10 === 0", "value": 0.55}, "value": 0}, "labels": false, "title": null}},
    "stroke": {"field": "series", "type": "nominal", "scale": {"domain": ["M","Rnet","SHF","LHF","G"], "range": ["#111111","#ff2222","#1c1ce0","#229a3a","#f5842c"]},
      "legend": {"values": ["Rnet","SHF","LHF","G","M"], "orient": "none", "legendX": 9.7, "legendY": 240.8, "title": null, "rowPadding": 2.5, "symbolType": "M-3.333,0H3.333", "symbolSize": 144, "symbolStrokeWidth": 1.5, "symbolOffset": 14, "labelOffset": 20, "fillColor": "white", "zindex": 0, "labelExpr": "datum.value === 'Rnet' ? 'Rₙₑₜ' : datum.value",
        "encode": {"labels": {"update": {"fill": {"signal": "datum.value === 'Rnet' ? '#ff5a5a' : datum.value === 'SHF' ? '#3762c6' : datum.value === 'LHF' ? '#20994a' : datum.value === 'G' ? '#f58a3c' : '#111111'"}}}}}}
   }},
  {"transform": [{"filter": "datum.h > 0"}],
   "mark": {"type": "point", "filled": true, "opacity": 1},
   "encoding": {
    "x": {"field": "h", "type": "quantitative", "axis": {"orient": "top", "values": [0,1,2,3,4,5,6,7,8,9,10,11,12,13,14,15,16,17,18,19,20,21,22,23,24], "tickSize": {"condition": {"test": "datum.value % 4 === 0", "value": 7}, "value": 4}, "grid": false, "labels": false, "title": null}},
    "y": {"field": "value", "type": "quantitative", "axis": {"orient": "right", "values": [-50,-45,-40,-35,-30,-25,-20,-15,-10,-5,0,5,10,15,20,25,30,35,40,45,50], "tickSize": {"condition": {"test": "datum.value % 10 === 0", "value": 7}, "value": 4}, "grid": false, "labels": false, "title": null}},
    "fill": {"field": "series", "type": "nominal", "scale": {"domain": ["Rnet","SHF","LHF","G","M"], "range": ["#ff2222","#1c1ce0","#229a3a","#f5842c","#111111"]},
      "legend": {"orient": "none", "legendX": 9.7, "legendY": 240.8, "title": null, "rowPadding": 2.5, "symbolSize": 36, "symbolStrokeWidth": 0, "symbolOffset": 14.5, "labelOffset": 6, "labelOpacity": 0, "zindex": 1, "labelExpr": "' '"}},
    "shape": {"field": "series", "type": "nominal", "scale": {"domain": ["Rnet","SHF","LHF","G","M"], "range": ["circle","square","diamond","triangle-up","triangle-down"]}},
    "size": {"condition": [{"test": "datum.series === 'Rnet'", "value": 34}, {"test": "datum.series === 'LHF'", "value": 14}, {"test": "datum.series === 'M'", "value": 22}], "value": 28}
   }}
 ]},
{"width": 338, "height": 336, "title": {"text": "AWS 6"}, "data": {"name": "d"},
 "transform": [{"filter": "datum.p === '6'"}, {"fold": ["Rnet","SHF","LHF","G","M"], "as": ["series","value"]}],
 "resolve": {"axis": {"x": "independent", "y": "independent"}},
 "layer": [
  {"mark": {"type": "line", "strokeWidth": 1.5},
   "encoding": {
    "x": {"field": "h", "type": "quantitative", "scale": {"domain": [-0.15, 24.15], "nice": false, "zero": false},
      "axis": {"orient": "bottom", "values": [0,1,2,3,4,5,6,7,8,9,10,11,12,13,14,15,16,17,18,19,20,21,22,23,24], "tickSize": {"condition": {"test": "datum.value % 4 === 0", "value": 7}, "value": 4}, "grid": true, "gridOpacity": {"condition": {"test": "datum.value % 4 === 0", "value": 0.55}, "value": 0}, "labels": false, "title": null}},
    "y": {"field": "value", "type": "quantitative", "scale": {"domain": [-55.2, 55.2], "nice": false},
      "axis": {"orient": "left", "values": [-50,-45,-40,-35,-30,-25,-20,-15,-10,-5,0,5,10,15,20,25,30,35,40,45,50], "tickSize": {"condition": {"test": "datum.value % 10 === 0", "value": 7}, "value": 4}, "grid": true, "gridOpacity": {"condition": {"test": "datum.value % 10 === 0", "value": 0.55}, "value": 0}, "labels": true, "labelExpr": "datum.value % 10 === 0 ? '' + datum.value : ''", "labelOverlap": false, "labelFlush": false, "labelPadding": 6.5, "title": "Energy flux (W m⁻²)", "titlePadding": 16.5}},
    "stroke": {"field": "series", "type": "nominal", "scale": {"domain": ["M","Rnet","SHF","LHF","G"], "range": ["#111111","#ff2222","#1c1ce0","#229a3a","#f5842c"]},
      "legend": {"values": ["Rnet","SHF","LHF","G","M"], "orient": "none", "legendX": 252, "legendY": 7.7, "title": null, "rowPadding": 4.8, "symbolType": "M-3.333,0H3.333", "symbolSize": 144, "symbolStrokeWidth": 1.5, "symbolOffset": 14, "labelOffset": 20, "fillColor": "white", "zindex": 0, "labelExpr": "datum.value === 'Rnet' ? 'Rₙₑₜ' : datum.value",
        "encode": {"labels": {"update": {"fill": {"signal": "datum.value === 'Rnet' ? '#ff5a5a' : datum.value === 'SHF' ? '#3762c6' : datum.value === 'LHF' ? '#20994a' : datum.value === 'G' ? '#f58a3c' : '#111111'"}}}}}}
   }},
  {"transform": [{"filter": "datum.h > 0"}],
   "mark": {"type": "point", "filled": true, "opacity": 1},
   "encoding": {
    "x": {"field": "h", "type": "quantitative", "axis": {"orient": "top", "values": [0,1,2,3,4,5,6,7,8,9,10,11,12,13,14,15,16,17,18,19,20,21,22,23,24], "tickSize": {"condition": {"test": "datum.value % 4 === 0", "value": 7}, "value": 4}, "grid": false, "labels": false, "title": null}},
    "y": {"field": "value", "type": "quantitative", "axis": {"orient": "right", "values": [-50,-45,-40,-35,-30,-25,-20,-15,-10,-5,0,5,10,15,20,25,30,35,40,45,50], "tickSize": {"condition": {"test": "datum.value % 10 === 0", "value": 7}, "value": 4}, "grid": false, "labels": false, "title": null}},
    "fill": {"field": "series", "type": "nominal", "scale": {"domain": ["Rnet","SHF","LHF","G","M"], "range": ["#ff2222","#1c1ce0","#229a3a","#f5842c","#111111"]},
      "legend": {"orient": "none", "legendX": 252, "legendY": 7.7, "title": null, "rowPadding": 4.8, "symbolSize": 36, "symbolStrokeWidth": 0, "symbolOffset": 14.5, "labelOffset": 6, "labelOpacity": 0, "zindex": 1, "labelExpr": "' '"}},
    "shape": {"field": "series", "type": "nominal", "scale": {"domain": ["Rnet","SHF","LHF","G","M"], "range": ["circle","square","diamond","triangle-up","triangle-down"]}},
    "size": {"condition": [{"test": "datum.series === 'Rnet'", "value": 34}, {"test": "datum.series === 'LHF'", "value": 14}, {"test": "datum.series === 'M'", "value": 22}], "value": 28}
   }}
 ]},
{"width": 338, "height": 336, "title": {"text": "AWS 6 (clear-sky)"}, "data": {"name": "d"},
 "transform": [{"filter": "datum.p === '6c'"}, {"fold": ["Rnet","SHF","LHF","G","M"], "as": ["series","value"]}],
 "resolve": {"axis": {"x": "independent", "y": "independent"}},
 "layer": [
  {"mark": {"type": "line", "strokeWidth": 1.5},
   "encoding": {
    "x": {"field": "h", "type": "quantitative", "scale": {"domain": [-0.15, 24.15], "nice": false, "zero": false},
      "axis": {"orient": "bottom", "values": [0,1,2,3,4,5,6,7,8,9,10,11,12,13,14,15,16,17,18,19,20,21,22,23,24], "tickSize": {"condition": {"test": "datum.value % 4 === 0", "value": 7}, "value": 4}, "grid": true, "gridOpacity": {"condition": {"test": "datum.value % 4 === 0", "value": 0.55}, "value": 0}, "labels": false, "title": null}},
    "y": {"field": "value", "type": "quantitative", "scale": {"domain": [-55.2, 55.2], "nice": false},
      "axis": {"orient": "left", "values": [-50,-45,-40,-35,-30,-25,-20,-15,-10,-5,0,5,10,15,20,25,30,35,40,45,50], "tickSize": {"condition": {"test": "datum.value % 10 === 0", "value": 7}, "value": 4}, "grid": true, "gridOpacity": {"condition": {"test": "datum.value % 10 === 0", "value": 0.55}, "value": 0}, "labels": false, "title": null}},
    "stroke": {"field": "series", "type": "nominal", "scale": {"domain": ["M","Rnet","SHF","LHF","G"], "range": ["#111111","#ff2222","#1c1ce0","#229a3a","#f5842c"]},
      "legend": {"values": ["Rnet","SHF","LHF","G","M"], "orient": "none", "legendX": 177.3, "legendY": 242.5, "title": null, "rowPadding": 2.5, "symbolType": "M-3.333,0H3.333", "symbolSize": 144, "symbolStrokeWidth": 1.5, "symbolOffset": 14, "labelOffset": 20, "fillColor": "white", "zindex": 0, "labelExpr": "datum.value === 'Rnet' ? 'Rₙₑₜ' : datum.value",
        "encode": {"labels": {"update": {"fill": {"signal": "datum.value === 'Rnet' ? '#ff5a5a' : datum.value === 'SHF' ? '#3762c6' : datum.value === 'LHF' ? '#20994a' : datum.value === 'G' ? '#f58a3c' : '#111111'"}}}}}}
   }},
  {"transform": [{"filter": "datum.h > 0"}],
   "mark": {"type": "point", "filled": true, "opacity": 1},
   "encoding": {
    "x": {"field": "h", "type": "quantitative", "axis": {"orient": "top", "values": [0,1,2,3,4,5,6,7,8,9,10,11,12,13,14,15,16,17,18,19,20,21,22,23,24], "tickSize": {"condition": {"test": "datum.value % 4 === 0", "value": 7}, "value": 4}, "grid": false, "labels": false, "title": null}},
    "y": {"field": "value", "type": "quantitative", "axis": {"orient": "right", "values": [-50,-45,-40,-35,-30,-25,-20,-15,-10,-5,0,5,10,15,20,25,30,35,40,45,50], "tickSize": {"condition": {"test": "datum.value % 10 === 0", "value": 7}, "value": 4}, "grid": false, "labels": false, "title": null}},
    "fill": {"field": "series", "type": "nominal", "scale": {"domain": ["Rnet","SHF","LHF","G","M"], "range": ["#ff2222","#1c1ce0","#229a3a","#f5842c","#111111"]},
      "legend": {"orient": "none", "legendX": 177.3, "legendY": 242.5, "title": null, "rowPadding": 2.5, "symbolSize": 36, "symbolStrokeWidth": 0, "symbolOffset": 14.5, "labelOffset": 6, "labelOpacity": 0, "zindex": 1, "labelExpr": "' '"}},
    "shape": {"field": "series", "type": "nominal", "scale": {"domain": ["Rnet","SHF","LHF","G","M"], "range": ["circle","square","diamond","triangle-up","triangle-down"]}},
    "size": {"condition": [{"test": "datum.series === 'Rnet'", "value": 34}, {"test": "datum.series === 'LHF'", "value": 14}, {"test": "datum.series === 'M'", "value": 22}], "value": 28}
   }}
 ]},
{"width": 338, "height": 336, "title": {"text": "AWS 6 (overcast)"}, "data": {"name": "d"},
 "transform": [{"filter": "datum.p === '6o'"}, {"fold": ["Rnet","SHF","LHF","G","M"], "as": ["series","value"]}],
 "resolve": {"axis": {"x": "independent", "y": "independent"}},
 "layer": [
  {"mark": {"type": "line", "strokeWidth": 1.5},
   "encoding": {
    "x": {"field": "h", "type": "quantitative", "scale": {"domain": [-0.15, 24.15], "nice": false, "zero": false},
      "axis": {"orient": "bottom", "values": [0,1,2,3,4,5,6,7,8,9,10,11,12,13,14,15,16,17,18,19,20,21,22,23,24], "tickSize": {"condition": {"test": "datum.value % 4 === 0", "value": 7}, "value": 4}, "grid": true, "gridOpacity": {"condition": {"test": "datum.value % 4 === 0", "value": 0.55}, "value": 0}, "labels": false, "title": null}},
    "y": {"field": "value", "type": "quantitative", "scale": {"domain": [-55.2, 55.2], "nice": false},
      "axis": {"orient": "left", "values": [-50,-45,-40,-35,-30,-25,-20,-15,-10,-5,0,5,10,15,20,25,30,35,40,45,50], "tickSize": {"condition": {"test": "datum.value % 10 === 0", "value": 7}, "value": 4}, "grid": true, "gridOpacity": {"condition": {"test": "datum.value % 10 === 0", "value": 0.55}, "value": 0}, "labels": false, "title": null}},
    "stroke": {"field": "series", "type": "nominal", "scale": {"domain": ["M","Rnet","SHF","LHF","G"], "range": ["#111111","#ff2222","#1c1ce0","#229a3a","#f5842c"]},
      "legend": {"values": ["Rnet","SHF","LHF","G","M"], "orient": "none", "legendX": 249.7, "legendY": 245.2, "title": null, "rowPadding": 2.3, "symbolType": "M-3.333,0H3.333", "symbolSize": 144, "symbolStrokeWidth": 1.5, "symbolOffset": 14, "labelOffset": 20, "fillColor": "white", "zindex": 0, "labelExpr": "datum.value === 'Rnet' ? 'Rₙₑₜ' : datum.value",
        "encode": {"labels": {"update": {"fill": {"signal": "datum.value === 'Rnet' ? '#ff5a5a' : datum.value === 'SHF' ? '#3762c6' : datum.value === 'LHF' ? '#20994a' : datum.value === 'G' ? '#f58a3c' : '#111111'"}}}}}}
   }},
  {"transform": [{"filter": "datum.h > 0"}],
   "mark": {"type": "point", "filled": true, "opacity": 1},
   "encoding": {
    "x": {"field": "h", "type": "quantitative", "axis": {"orient": "top", "values": [0,1,2,3,4,5,6,7,8,9,10,11,12,13,14,15,16,17,18,19,20,21,22,23,24], "tickSize": {"condition": {"test": "datum.value % 4 === 0", "value": 7}, "value": 4}, "grid": false, "labels": false, "title": null}},
    "y": {"field": "value", "type": "quantitative", "axis": {"orient": "right", "values": [-50,-45,-40,-35,-30,-25,-20,-15,-10,-5,0,5,10,15,20,25,30,35,40,45,50], "tickSize": {"condition": {"test": "datum.value % 10 === 0", "value": 7}, "value": 4}, "grid": false, "labels": false, "title": null}},
    "fill": {"field": "series", "type": "nominal", "scale": {"domain": ["Rnet","SHF","LHF","G","M"], "range": ["#ff2222","#1c1ce0","#229a3a","#f5842c","#111111"]},
      "legend": {"orient": "none", "legendX": 249.7, "legendY": 245.2, "title": null, "rowPadding": 2.3, "symbolSize": 36, "symbolStrokeWidth": 0, "symbolOffset": 14.5, "labelOffset": 6, "labelOpacity": 0, "zindex": 1, "labelExpr": "' '"}},
    "shape": {"field": "series", "type": "nominal", "scale": {"domain": ["Rnet","SHF","LHF","G","M"], "range": ["circle","square","diamond","triangle-up","triangle-down"]}},
    "size": {"condition": [{"test": "datum.series === 'Rnet'", "value": 34}, {"test": "datum.series === 'LHF'", "value": 14}, {"test": "datum.series === 'M'", "value": 22}], "value": 28}
   }}
 ]},
{"width": 338, "height": 336, "title": {"text": "AWS 9"}, "data": {"name": "d"},
 "transform": [{"filter": "datum.p === '9'"}, {"fold": ["Rnet","SHF","LHF","G","M"], "as": ["series","value"]}],
 "resolve": {"axis": {"x": "independent", "y": "independent"}},
 "layer": [
  {"mark": {"type": "line", "strokeWidth": 1.5},
   "encoding": {
    "x": {"field": "h", "type": "quantitative", "scale": {"domain": [-0.15, 24.15], "nice": false, "zero": false},
      "axis": {"orient": "bottom", "values": [0,1,2,3,4,5,6,7,8,9,10,11,12,13,14,15,16,17,18,19,20,21,22,23,24], "tickSize": {"condition": {"test": "datum.value % 4 === 0", "value": 7}, "value": 4}, "grid": true, "gridOpacity": {"condition": {"test": "datum.value % 4 === 0", "value": 0.55}, "value": 0}, "labels": true, "labelExpr": "datum.value % 4 === 0 ? datum.label : ''", "labelOverlap": false, "labelFlush": false, "labelPadding": 5, "title": "Time (solar noon)", "titlePadding": 9}},
    "y": {"field": "value", "type": "quantitative", "scale": {"domain": [-55.2, 55.2], "nice": false},
      "axis": {"orient": "left", "values": [-50,-45,-40,-35,-30,-25,-20,-15,-10,-5,0,5,10,15,20,25,30,35,40,45,50], "tickSize": {"condition": {"test": "datum.value % 10 === 0", "value": 7}, "value": 4}, "grid": true, "gridOpacity": {"condition": {"test": "datum.value % 10 === 0", "value": 0.55}, "value": 0}, "labels": true, "labelExpr": "datum.value % 10 === 0 ? '' + datum.value : ''", "labelOverlap": false, "labelFlush": false, "labelPadding": 6.5, "title": "Energy flux (W m⁻²)", "titlePadding": 16.5}},
    "stroke": {"field": "series", "type": "nominal", "scale": {"domain": ["M","Rnet","SHF","LHF","G"], "range": ["#111111","#ff2222","#1c1ce0","#229a3a","#f5842c"]},
      "legend": {"values": ["Rnet","SHF","LHF","G","M"], "orient": "none", "legendX": 245.4, "legendY": 7.2, "title": null, "rowPadding": 4.7, "symbolType": "M-3.333,0H3.333", "symbolSize": 144, "symbolStrokeWidth": 1.5, "symbolOffset": 14, "labelOffset": 20, "fillColor": "white", "zindex": 0, "labelExpr": "datum.value === 'Rnet' ? 'Rₙₑₜ' : datum.value",
        "encode": {"labels": {"update": {"fill": {"signal": "datum.value === 'Rnet' ? '#ff5a5a' : datum.value === 'SHF' ? '#3762c6' : datum.value === 'LHF' ? '#20994a' : datum.value === 'G' ? '#f58a3c' : '#111111'"}}}}}}
   }},
  {"transform": [{"filter": "datum.h > 0 && datum.h < 24"}],
   "mark": {"type": "point", "filled": true, "opacity": 1},
   "encoding": {
    "x": {"field": "h", "type": "quantitative", "axis": {"orient": "top", "values": [0,1,2,3,4,5,6,7,8,9,10,11,12,13,14,15,16,17,18,19,20,21,22,23,24], "tickSize": {"condition": {"test": "datum.value % 4 === 0", "value": 7}, "value": 4}, "grid": false, "labels": false, "title": null}},
    "y": {"field": "value", "type": "quantitative", "axis": {"orient": "right", "values": [-50,-45,-40,-35,-30,-25,-20,-15,-10,-5,0,5,10,15,20,25,30,35,40,45,50], "tickSize": {"condition": {"test": "datum.value % 10 === 0", "value": 7}, "value": 4}, "grid": false, "labels": false, "title": null}},
    "fill": {"field": "series", "type": "nominal", "scale": {"domain": ["Rnet","SHF","LHF","G","M"], "range": ["#ff2222","#1c1ce0","#229a3a","#f5842c","#111111"]},
      "legend": {"orient": "none", "legendX": 245.4, "legendY": 7.2, "title": null, "rowPadding": 4.7, "symbolSize": 36, "symbolStrokeWidth": 0, "symbolOffset": 14.5, "labelOffset": 6, "labelOpacity": 0, "zindex": 1, "labelExpr": "' '"}},
    "shape": {"field": "series", "type": "nominal", "scale": {"domain": ["Rnet","SHF","LHF","G","M"], "range": ["circle","square","diamond","triangle-up","triangle-down"]}},
    "size": {"condition": [{"test": "datum.series === 'Rnet'", "value": 34}, {"test": "datum.series === 'LHF'", "value": 14}, {"test": "datum.series === 'M'", "value": 22}], "value": 28}
   }}
 ]},
{"width": 338, "height": 336, "title": {"text": "AWS 9 (clear-sky)"}, "data": {"name": "d"},
 "transform": [{"filter": "datum.p === '9c'"}, {"fold": ["Rnet","SHF","LHF","G","M"], "as": ["series","value"]}],
 "resolve": {"axis": {"x": "independent", "y": "independent"}},
 "layer": [
  {"mark": {"type": "line", "strokeWidth": 1.5},
   "encoding": {
    "x": {"field": "h", "type": "quantitative", "scale": {"domain": [-0.15, 24.15], "nice": false, "zero": false},
      "axis": {"orient": "bottom", "values": [0,1,2,3,4,5,6,7,8,9,10,11,12,13,14,15,16,17,18,19,20,21,22,23,24], "tickSize": {"condition": {"test": "datum.value % 4 === 0", "value": 7}, "value": 4}, "grid": true, "gridOpacity": {"condition": {"test": "datum.value % 4 === 0", "value": 0.55}, "value": 0}, "labels": true, "labelExpr": "datum.value % 4 === 0 ? datum.label : ''", "labelOverlap": false, "labelFlush": false, "labelPadding": 5, "title": "Time (solar noon)", "titlePadding": 9}},
    "y": {"field": "value", "type": "quantitative", "scale": {"domain": [-55.2, 55.2], "nice": false},
      "axis": {"orient": "left", "values": [-50,-45,-40,-35,-30,-25,-20,-15,-10,-5,0,5,10,15,20,25,30,35,40,45,50], "tickSize": {"condition": {"test": "datum.value % 10 === 0", "value": 7}, "value": 4}, "grid": true, "gridOpacity": {"condition": {"test": "datum.value % 10 === 0", "value": 0.55}, "value": 0}, "labels": false, "title": null}},
    "stroke": {"field": "series", "type": "nominal", "scale": {"domain": ["M","Rnet","SHF","LHF","G"], "range": ["#111111","#ff2222","#1c1ce0","#229a3a","#f5842c"]},
      "legend": {"values": ["Rnet","SHF","LHF","G","M"], "orient": "none", "legendX": 250.6, "legendY": 7.3, "title": null, "rowPadding": 2.5, "symbolType": "M-3.333,0H3.333", "symbolSize": 144, "symbolStrokeWidth": 1.5, "symbolOffset": 14, "labelOffset": 20, "fillColor": "white", "zindex": 0, "labelExpr": "datum.value === 'Rnet' ? 'Rₙₑₜ' : datum.value",
        "encode": {"labels": {"update": {"fill": {"signal": "datum.value === 'Rnet' ? '#ff5a5a' : datum.value === 'SHF' ? '#3762c6' : datum.value === 'LHF' ? '#20994a' : datum.value === 'G' ? '#f58a3c' : '#111111'"}}}}}}
   }},
  {"transform": [{"filter": "datum.h > 0 && datum.h < 24"}],
   "mark": {"type": "point", "filled": true, "opacity": 1},
   "encoding": {
    "x": {"field": "h", "type": "quantitative", "axis": {"orient": "top", "values": [0,1,2,3,4,5,6,7,8,9,10,11,12,13,14,15,16,17,18,19,20,21,22,23,24], "tickSize": {"condition": {"test": "datum.value % 4 === 0", "value": 7}, "value": 4}, "grid": false, "labels": false, "title": null}},
    "y": {"field": "value", "type": "quantitative", "axis": {"orient": "right", "values": [-50,-45,-40,-35,-30,-25,-20,-15,-10,-5,0,5,10,15,20,25,30,35,40,45,50], "tickSize": {"condition": {"test": "datum.value % 10 === 0", "value": 7}, "value": 4}, "grid": false, "labels": false, "title": null}},
    "fill": {"field": "series", "type": "nominal", "scale": {"domain": ["Rnet","SHF","LHF","G","M"], "range": ["#ff2222","#1c1ce0","#229a3a","#f5842c","#111111"]},
      "legend": {"orient": "none", "legendX": 250.6, "legendY": 7.3, "title": null, "rowPadding": 2.5, "symbolSize": 36, "symbolStrokeWidth": 0, "symbolOffset": 14.5, "labelOffset": 6, "labelOpacity": 0, "zindex": 1, "labelExpr": "' '"}},
    "shape": {"field": "series", "type": "nominal", "scale": {"domain": ["Rnet","SHF","LHF","G","M"], "range": ["circle","square","diamond","triangle-up","triangle-down"]}},
    "size": {"condition": [{"test": "datum.series === 'Rnet'", "value": 34}, {"test": "datum.series === 'LHF'", "value": 14}, {"test": "datum.series === 'M'", "value": 22}], "value": 28}
   }}
 ]},
{"width": 338, "height": 336, "title": {"text": "AWS 9 (overcast)"}, "data": {"name": "d"},
 "transform": [{"filter": "datum.p === '9o'"}, {"fold": ["Rnet","SHF","LHF","G","M"], "as": ["series","value"]}],
 "resolve": {"axis": {"x": "independent", "y": "independent"}},
 "layer": [
  {"mark": {"type": "line", "strokeWidth": 1.5},
   "encoding": {
    "x": {"field": "h", "type": "quantitative", "scale": {"domain": [-0.15, 24.15], "nice": false, "zero": false},
      "axis": {"orient": "bottom", "values": [0,1,2,3,4,5,6,7,8,9,10,11,12,13,14,15,16,17,18,19,20,21,22,23,24], "tickSize": {"condition": {"test": "datum.value % 4 === 0", "value": 7}, "value": 4}, "grid": true, "gridOpacity": {"condition": {"test": "datum.value % 4 === 0", "value": 0.55}, "value": 0}, "labels": true, "labelExpr": "datum.value % 4 === 0 ? datum.label : ''", "labelOverlap": false, "labelFlush": false, "labelPadding": 5, "title": "Time (solar noon)", "titlePadding": 9}},
    "y": {"field": "value", "type": "quantitative", "scale": {"domain": [-55.2, 55.2], "nice": false},
      "axis": {"orient": "left", "values": [-50,-45,-40,-35,-30,-25,-20,-15,-10,-5,0,5,10,15,20,25,30,35,40,45,50], "tickSize": {"condition": {"test": "datum.value % 10 === 0", "value": 7}, "value": 4}, "grid": true, "gridOpacity": {"condition": {"test": "datum.value % 10 === 0", "value": 0.55}, "value": 0}, "labels": false, "title": null}},
    "stroke": {"field": "series", "type": "nominal", "scale": {"domain": ["M","Rnet","SHF","LHF","G"], "range": ["#111111","#ff2222","#1c1ce0","#229a3a","#f5842c"]},
      "legend": {"values": ["Rnet","SHF","LHF","G","M"], "orient": "none", "legendX": 248, "legendY": 8.4, "title": null, "rowPadding": 3.5, "symbolType": "M-3.333,0H3.333", "symbolSize": 144, "symbolStrokeWidth": 1.5, "symbolOffset": 14, "labelOffset": 20, "fillColor": "white", "zindex": 0, "labelExpr": "datum.value === 'Rnet' ? 'Rₙₑₜ' : datum.value",
        "encode": {"labels": {"update": {"fill": {"signal": "datum.value === 'Rnet' ? '#ff5a5a' : datum.value === 'SHF' ? '#3762c6' : datum.value === 'LHF' ? '#20994a' : datum.value === 'G' ? '#f58a3c' : '#111111'"}}}}}}
   }},
  {"transform": [{"filter": "datum.h > 0 && datum.h < 24"}],
   "mark": {"type": "point", "filled": true, "opacity": 1},
   "encoding": {
    "x": {"field": "h", "type": "quantitative", "axis": {"orient": "top", "values": [0,1,2,3,4,5,6,7,8,9,10,11,12,13,14,15,16,17,18,19,20,21,22,23,24], "tickSize": {"condition": {"test": "datum.value % 4 === 0", "value": 7}, "value": 4}, "grid": false, "labels": false, "title": null}},
    "y": {"field": "value", "type": "quantitative", "axis": {"orient": "right", "values": [-50,-45,-40,-35,-30,-25,-20,-15,-10,-5,0,5,10,15,20,25,30,35,40,45,50], "tickSize": {"condition": {"test": "datum.value % 10 === 0", "value": 7}, "value": 4}, "grid": false, "labels": false, "title": null}},
    "fill": {"field": "series", "type": "nominal", "scale": {"domain": ["Rnet","SHF","LHF","G","M"], "range": ["#ff2222","#1c1ce0","#229a3a","#f5842c","#111111"]},
      "legend": {"orient": "none", "legendX": 248, "legendY": 8.4, "title": null, "rowPadding": 3.5, "symbolSize": 36, "symbolStrokeWidth": 0, "symbolOffset": 14.5, "labelOffset": 6, "labelOpacity": 0, "zindex": 1, "labelExpr": "' '"}},
    "shape": {"field": "series", "type": "nominal", "scale": {"domain": ["Rnet","SHF","LHF","G","M"], "range": ["circle","square","diamond","triangle-up","triangle-down"]}},
    "size": {"condition": [{"test": "datum.series === 'Rnet'", "value": 34}, {"test": "datum.series === 'LHF'", "value": 14}, {"test": "datum.series === 'M'", "value": 22}], "value": 28}
   }}
 ]}
],
"config": {
 "font": "Liberation Sans",
 "view": {"stroke": "#3434d8", "strokeWidth": 1.5},
 "axis": {"domain": false, "tickColor": "#3434d8", "tickWidth": 1.2, "gridColor": "#7272ec", "gridDash": [5, 2], "gridWidth": 1.3, "labelFont": "Liberation Sans", "labelFontSize": 19, "labelColor": "#000000", "titleFont": "Liberation Sans", "titleFontSize": 20, "titleFontWeight": "normal", "titleColor": "#000000"},
 "legend": {"padding": 5, "labelFont": "Liberation Sans", "labelFontSize": 13, "labelLimit": 120},
 "title": {"anchor": "start", "frame": "group", "offset": -29, "dx": 10, "fontSize": 12, "fontStyle": "italic", "fontWeight": "normal", "font": "Liberation Sans", "color": "#111111"}
}
}
